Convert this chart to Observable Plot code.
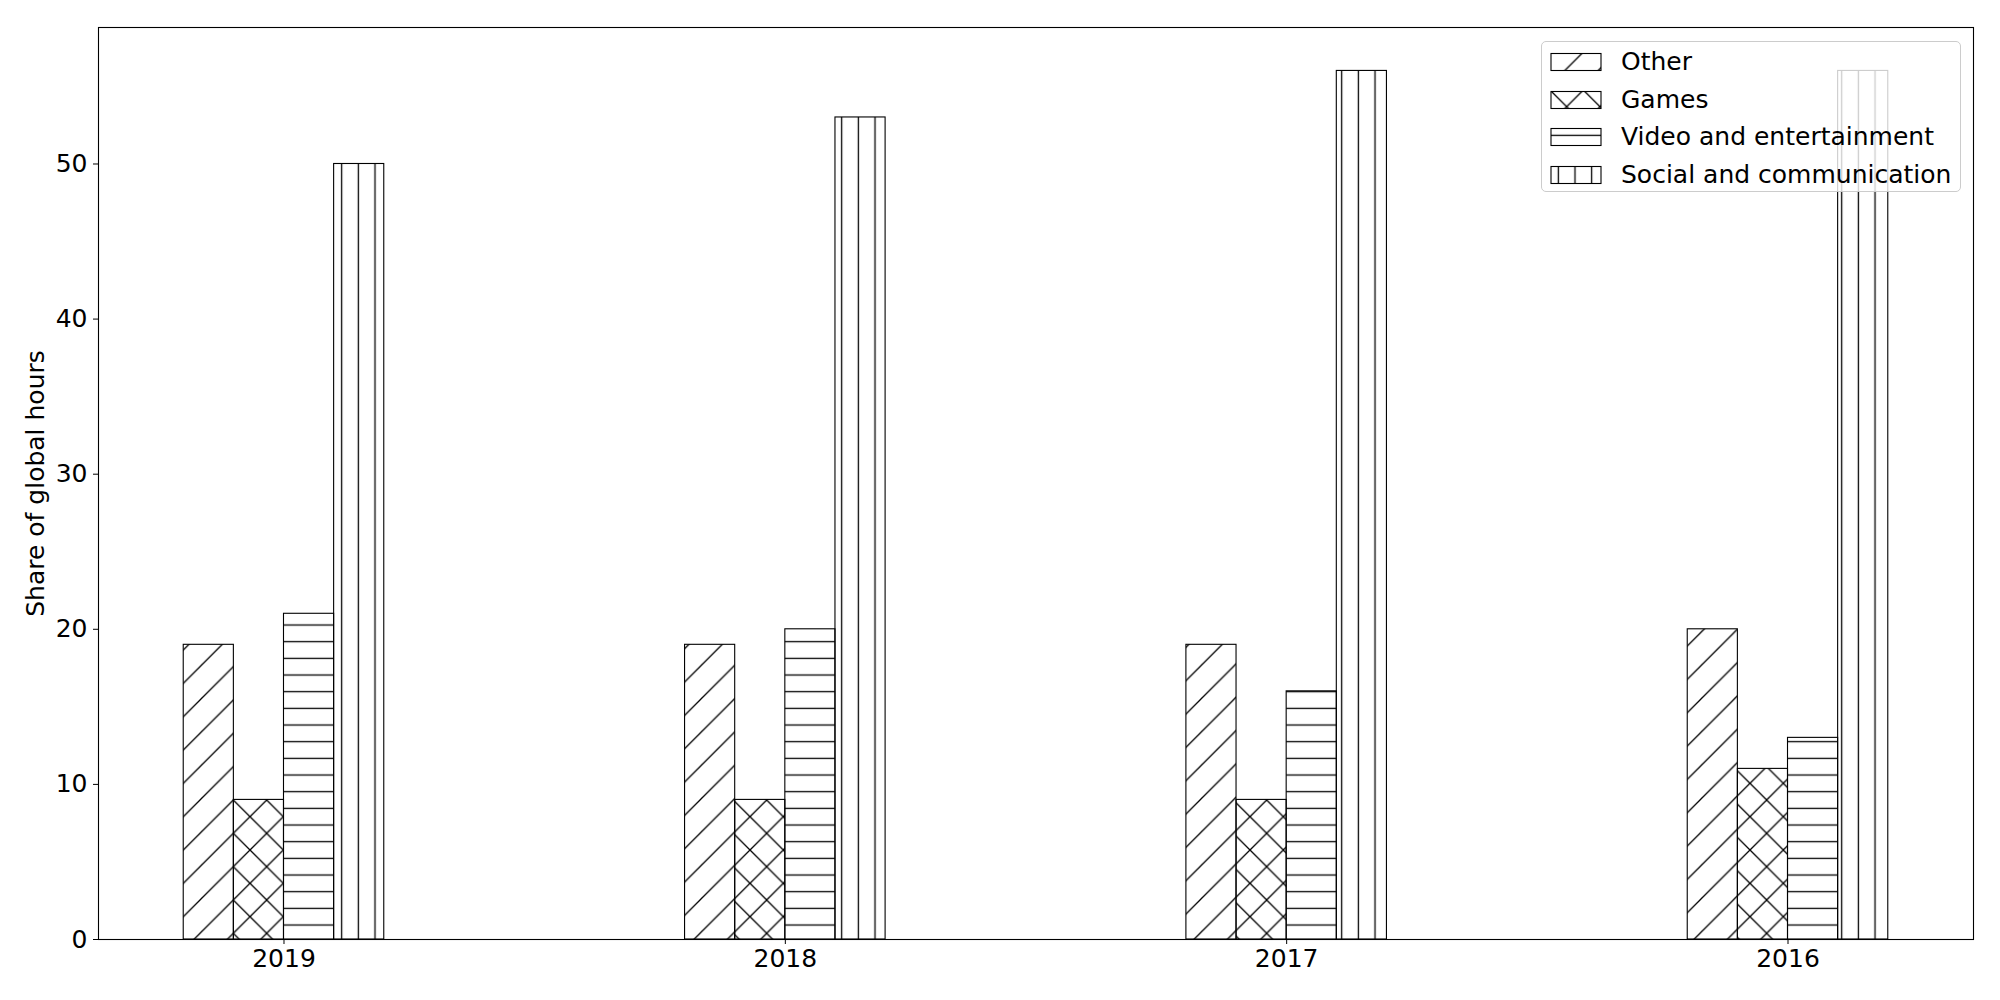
<!DOCTYPE html>
<html><head><meta charset="utf-8">
<script src="https://cdn.jsdelivr.net/npm/d3@7"></script>
<script src="https://cdn.jsdelivr.net/npm/@observablehq/plot@0.6"></script>
<style>
body{margin:0;background:#fff;font-family:"DejaVu Sans",sans-serif;}
#wrap{position:relative;width:2000px;height:1000px;overflow:hidden;}
#wrap > svg.chart{position:absolute;left:0;top:0;}
#legend{position:absolute;left:1541px;top:41px;width:420px;height:151px;box-sizing:border-box;
  border:1px solid #cccccc;border-radius:5px;background:rgba(255,255,255,0.8);}
#legend .row{position:absolute;left:8px;height:24px;display:flex;align-items:center;}
#legend .row svg{display:block;}
#legend .row span{position:absolute;left:71px;font-size:25px;white-space:nowrap;line-height:24px;color:#000;font-family:"DejaVu Sans";}
</style></head><body>
<svg width="0" height="0" style="position:absolute">
  <defs>
    <pattern id="hatch-0" patternUnits="userSpaceOnUse" width="33.333" height="33.333">
      <path d="M0,33.333L33.333,0M-3,3L3,-3M30.333,36.333L36.333,30.333" stroke="#000" stroke-width="1.3" fill="none"/>
    </pattern>
    <pattern id="hatch-1" patternUnits="userSpaceOnUse" width="33.333" height="33.333">
      <path d="M0,33.333L33.333,0M-3,3L3,-3M30.333,36.333L36.333,30.333M0,0L33.333,33.333M-3,30.333L3,36.333M30.333,-3L36.333,3" stroke="#000" stroke-width="1.3" fill="none"/>
    </pattern>
    <pattern id="hatch-2" patternUnits="userSpaceOnUse" width="16.667" height="16.667">
      <path d="M-1,8.333L17.667,8.333" stroke="#000" stroke-width="1.3" fill="none"/>
    </pattern>
    <pattern id="hatch-3" patternUnits="userSpaceOnUse" width="16.667" height="16.667">
      <path d="M8.333,-1L8.333,17.667" stroke="#000" stroke-width="1.3" fill="none"/>
    </pattern>
  </defs>
</svg>
<div id="wrap"></div>
<script>
const years = ["2019", "2018", "2017", "2016"];
const categories = ["Other", "Games", "Video and entertainment", "Social and communication"];
const other  = [19, 19, 19, 20];
const games  = [9, 9, 9, 11];
const video  = [21, 20, 16, 13];
const social = [50, 53, 56, 56];
const yTicks = [0, 10, 20, 30, 40, 50];
const yLabel = "Share of global hours";

const series = [other, games, video, social];
const barWidth = 0.1;
const rows = [];
series.forEach((vals, j) => vals.forEach((v, i) => rows.push({i, j, value: v})));

const barMarks = categories.map((c, j) => Plot.rectY(rows.filter(d => d.j === j), {
  x1: d => d.i + (d.j - 2) * barWidth,
  x2: d => d.i + (d.j - 1) * barWidth,
  y1: 0,
  y2: "value",
  fill: `url(#hatch-${j})`,
  stroke: "#000",
  strokeWidth: 1.1
}));

const chart = Plot.plot({
  width: 2000,
  height: 1000,
  marginLeft: 98,
  marginRight: 27,
  marginTop: 27,
  marginBottom: 61,
  style: {fontFamily: "DejaVu Sans", fontSize: "25px", color: "#000", background: "#fff"},
  x: {type: "linear", domain: [-0.37, 3.37]},
  y: {domain: [0, 58.8]},
  marks: [
    ...barMarks,
    Plot.frame({stroke: "#000", strokeWidth: 1.1}),
    Plot.axisY({ticks: yTicks, tickSize: 5, tickPadding: 6, label: null, fontSize: 25, tickFormat: d => String(d)}),
    Plot.axisX({ticks: years.map((y, i) => i), tickSize: 5, tickPadding: 5, label: null, fontSize: 25, tickFormat: i => years[i]}),
    Plot.text([yLabel], {frameAnchor: "left", textAnchor: "middle", text: d => d, rotate: -90, dx: -63, fontSize: 25})
  ]
});
chart.classList.add("chart");
const wrap = document.getElementById("wrap");
wrap.appendChild(chart);

// legend
const legend = document.createElement("div");
legend.id = "legend";
categories.forEach((c, j) => {
  const row = document.createElement("div");
  row.className = "row";
  row.style.top = (8 + 37.5 * j) + "px";
  row.innerHTML = `<svg width="52" height="20"><rect x="1" y="1.5" width="50" height="17" fill="url(#hatch-${j})" stroke="#000" stroke-width="1.1"/></svg><span>${c}</span>`;
  legend.appendChild(row);
});
wrap.appendChild(legend);
</script>
</body></html>
